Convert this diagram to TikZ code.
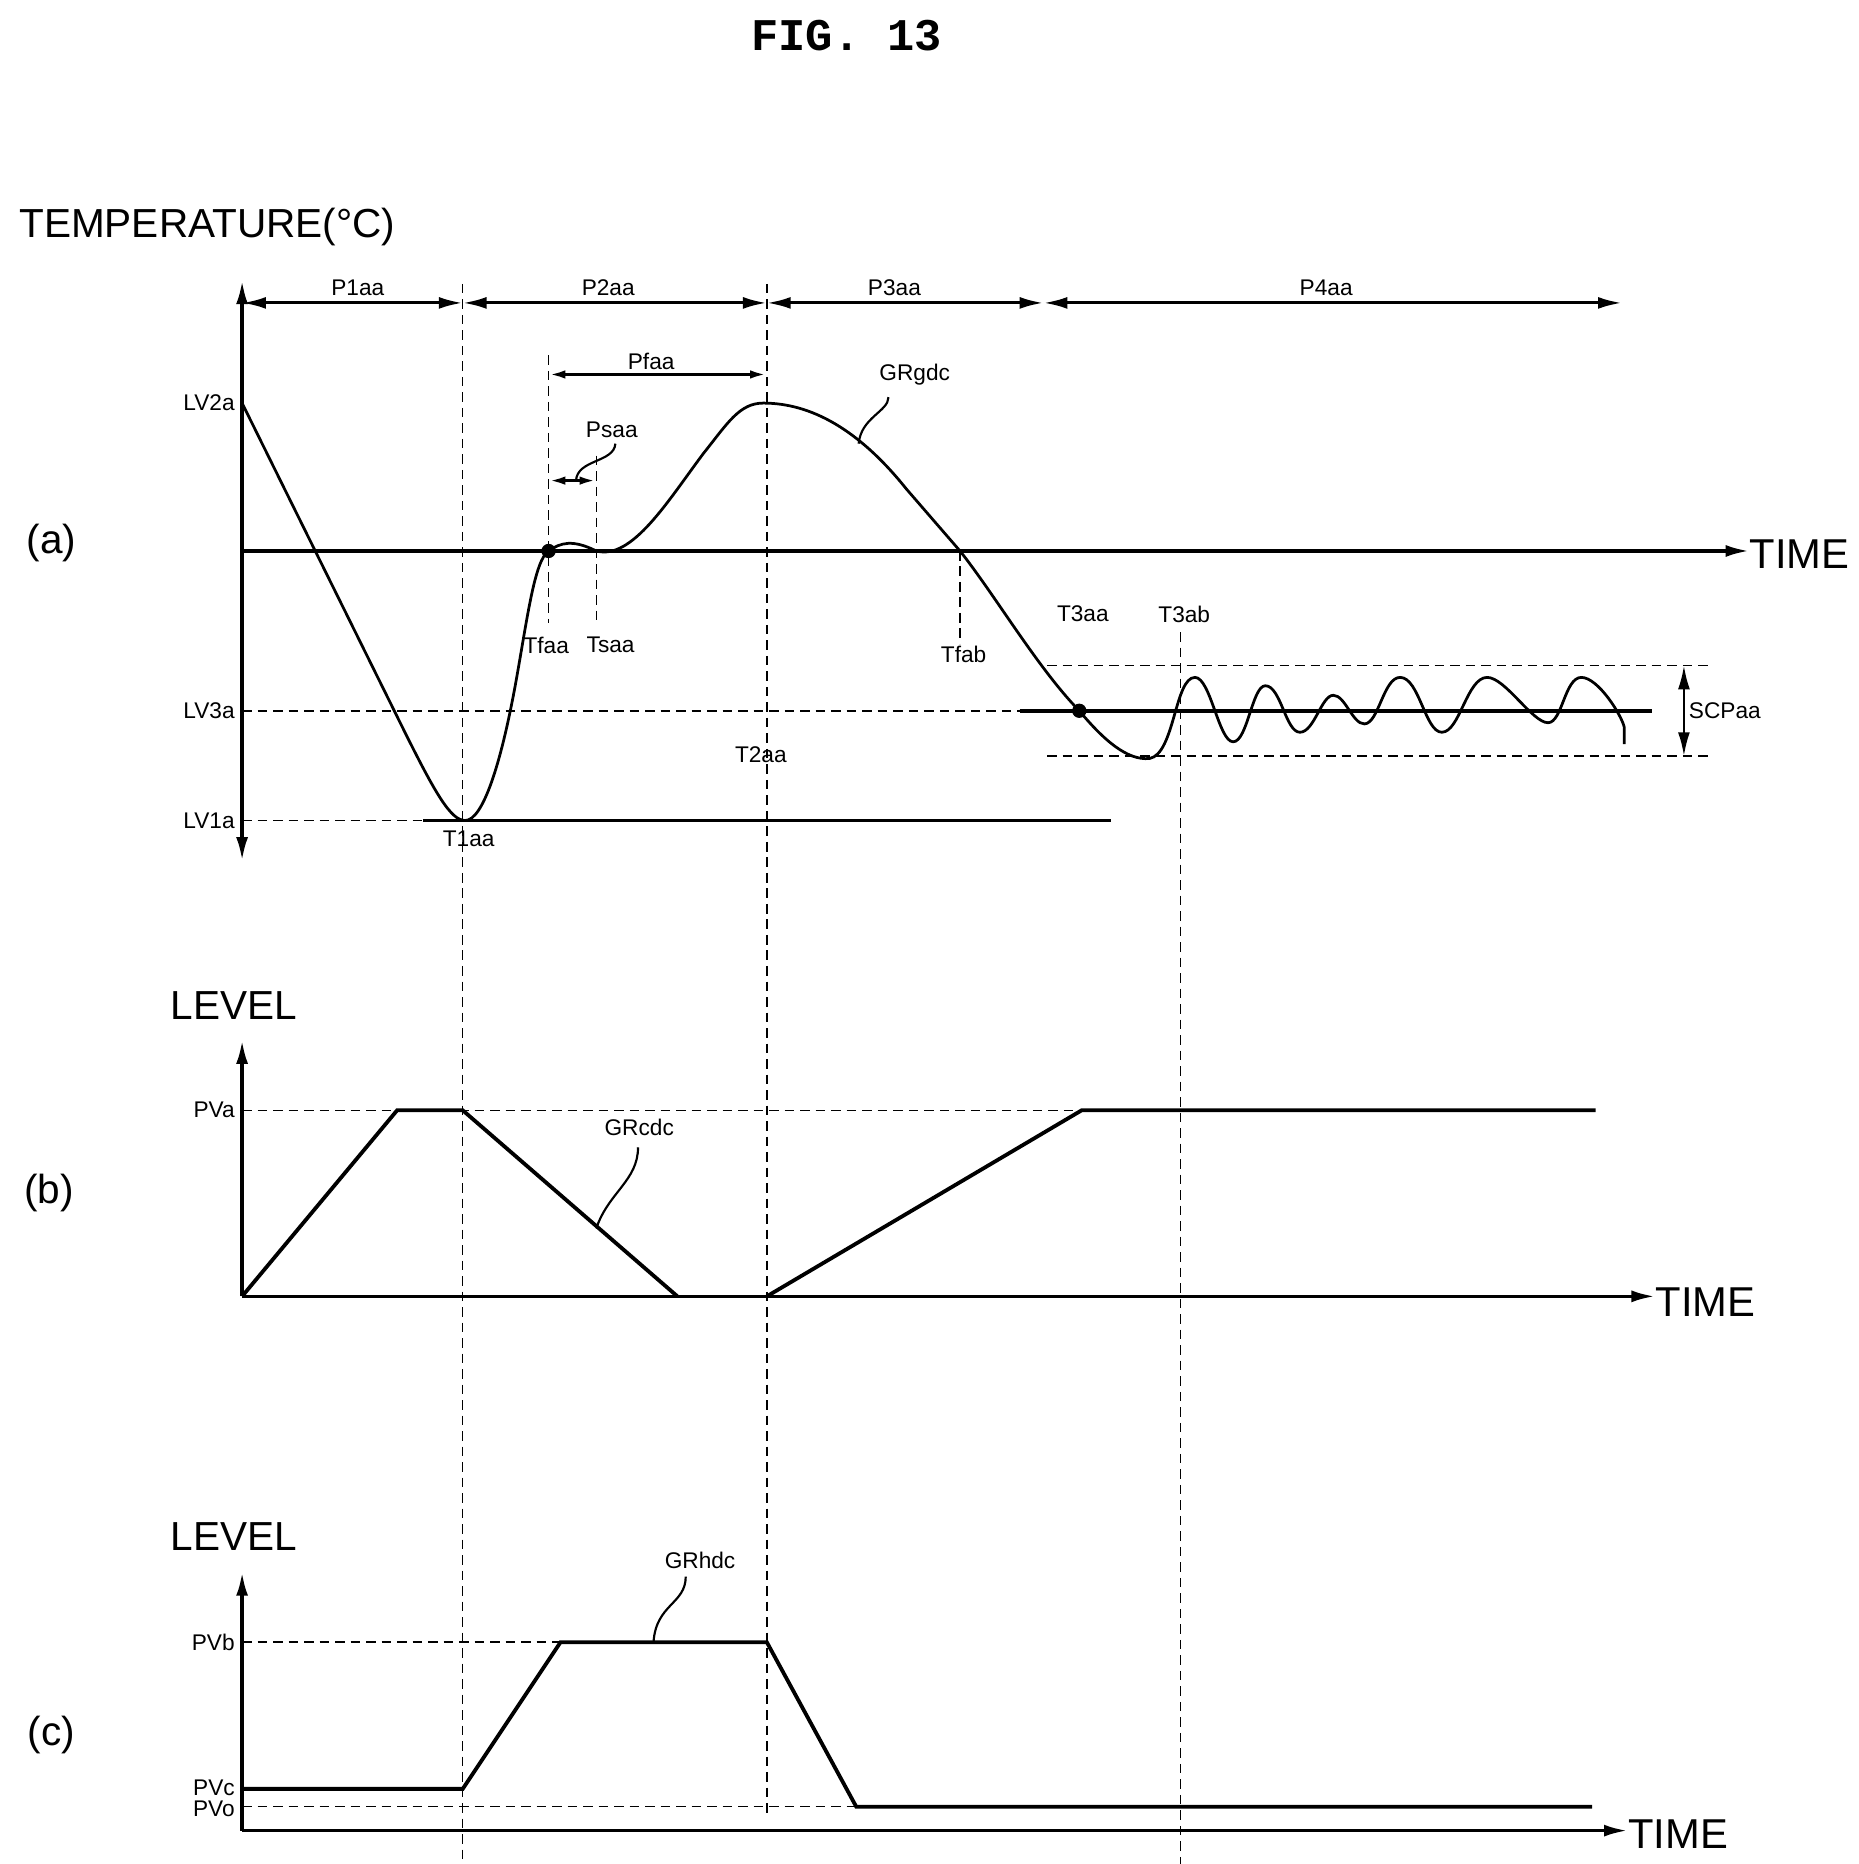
\documentclass[tikz,border=0pt]{standalone}
\usepackage{fontspec}
\setmainfont{Liberation Sans}
\newfontfamily\titlefont{Liberation Mono}
\usetikzlibrary{arrows.meta}
\begin{document}
\begin{tikzpicture}[x=1pt,y=-1pt,
  ax/.style={line width=3pt},
  thk/.style={line width=3.2pt},
  crv/.style={line width=2.3pt},
  dsh/.style={line width=1.2pt,dash pattern=on 8pt off 5pt},
  tip/.style={-{Latex[length=20pt,width=10pt]}},
  tips/.style={{Latex[length=20pt,width=10pt]}-{Latex[length=20pt,width=10pt]}},
  stips/.style={{Latex[length=14pt,width=7pt]}-{Latex[length=14pt,width=7pt]}},
  sm/.style={font=\fontsize{19}{19}\selectfont,inner sep=1pt},
  big/.style={font=\fontsize{34}{34}\selectfont,inner sep=0pt},
  tm/.style={font=\fontsize{35}{35}\selectfont,inner sep=0pt,anchor=west},
  lead/.style={line width=1.8pt}]
\useasboundingbox (0,0) rectangle (1558,1563);
\node[font=\titlefont\bfseries\fontsize{38}{38}\selectfont] (title) at (710,30) {FIG. 13};
% ---------- (a)
\node[big,anchor=west] (temp) at (16,190) {TEMPERATURE(°C)};
\node[big] (la) at (43,455) {(a)};
\coordinate (aT) at (203,235); \coordinate (aB) at (203,722);
\draw[ax,tips] (aB) -- (aT);
\coordinate (tA0) at (203,462); \coordinate (tA1) at (1467,462);
\draw[ax,tip] (tA0) -- (tA1);
\node[tm] (timea) at (1467,465) {TIME};
% dashed verticals
\draw[dsh] (388,238) -- (388,1565);
\draw[dsh] (643,238) -- (643,1520);
\draw[dsh] (990,530) -- (990,1565);
\draw[dsh] (460,298) -- (460,522);
\draw[dsh] (500,382) -- (500,522);
\draw[dsh] (805,462) -- (805,540);
% period arrows
\foreach \a/\b in {203/388,388/643,643/875,875/1360}{\draw[line width=2.6pt,tips] (\a,254) -- (\b,254);}
\node[sm] (p1) at (300,241) {P1aa};
\node[sm] (p2) at (510,241) {P2aa};
\node[sm] (p3) at (750,241) {P3aa};
\node[sm] (p4) at (1112,241) {P4aa};
\draw[line width=2.6pt,stips] (460,314) -- (643,314);
\node[sm] (pf) at (546,303) {Pfaa};
\draw[line width=2.6pt,stips] (460,403) -- (500,403);
\node[sm] (ps) at (513,360) {Psaa};
\draw[lead] (483,403) .. controls (484,385) and (515,388) .. (516,372);
% levels
\node[sm,anchor=east] (lv2) at (198,338) {LV2a};
\node[sm,anchor=east] (lv3) at (198,596) {LV3a};
\node[sm,anchor=east] (lv1) at (198,688) {LV1a};
\draw[dsh] (203,596) -- (855,596);
\draw[thk] (855,596) -- (1385,596);
\draw[dsh] (203,688) -- (355,688);
\draw[thk] (355,688) -- (932,688);
\draw[dsh] (878,558) -- (1432,558);
\draw[dsh] (878,634) -- (1432,634);
\draw[line width=2pt,tips] (1412,558) -- (1412,634);
\node[sm,anchor=west] (scp) at (1415,596) {SCPaa};
% curve
\draw[crv] (203,338) -- (340,615) .. controls (365,665) and (378,688) .. (390,688)
  .. controls (405,688) and (420,640) .. (432,575) .. controls (442,520) and (448,470) .. (460,462)
  .. controls (470,455) and (480,452) .. (500,462)
  .. controls (530,470) and (560,420) .. (590,380) .. controls (610,355) and (620,338) .. (640,338)
  .. controls (680,338) and (720,360) .. (760,410) -- (805,462)
  .. controls (835,500) and (870,560) .. (905,596)
  .. controls (925,620) and (945,638) .. (964,636)
  .. controls (985,632) and (985,568) .. (1002,568)
  .. controls (1015,568) and (1022,622) .. (1034,622)
  .. controls (1046,622) and (1050,575) .. (1061,575)
  .. controls (1074,575) and (1078,614) .. (1090,614)
  .. controls (1102,614) and (1108,583) .. (1118,583)
  .. controls (1128,583) and (1134,607) .. (1144,607)
  .. controls (1156,607) and (1160,568) .. (1174,568)
  .. controls (1190,568) and (1195,614) .. (1209,614)
  .. controls (1224,614) and (1230,568) .. (1247,568)
  .. controls (1262,568) and (1285,606) .. (1298,606)
  .. controls (1310,606) and (1312,568) .. (1326,568)
  .. controls (1340,568) and (1360,600) .. (1362,610) -- (1362,624);
\fill (460,462) circle (6pt);
\fill (905,596) circle (6pt);
\draw[lead] (720,372) .. controls (722,350) and (745,345) .. (745,333);
\node[sm] (gr) at (767,314) {GRgdc};
\node[sm] (tfaa) at (458,541) {Tfaa};
\node[sm] (tsaa) at (512,541) {Tsaa};
\node[sm] (tfab) at (808,549) {Tfab};
\node[sm] (t3aa) at (908,515) {T3aa};
\node[sm] (t3ab) at (993,515) {T3ab};
\node[sm] (t2aa) at (638,633) {T2aa};
\node[sm] (t1aa) at (393,703) {T1aa};
% ---------- (b)
\node[big,anchor=west] (levb) at (143,843) {LEVEL};
\node[big] (lb) at (41,1000) {(b)};
\draw[ax,tip] (203,1087) -- (203,872);
\draw[ax,tip] (203,1087) -- (1388,1087);
\node[tm] (timeb) at (1388,1092) {TIME};
\node[sm,anchor=east] (pva) at (198,931) {PVa};
\draw[dsh] (203,931) -- (907,931);
\draw[thk] (203,1087) -- (333,931) -- (388,931) -- (568,1087);
\draw[thk] (643,1087) -- (907,931) -- (1338,931);
\draw[lead] (500,1030) .. controls (510,1000) and (535,990) .. (535,962);
\node[sm] (grc) at (536,945) {GRcdc};
% ---------- (c)
\node[big,anchor=west] (levc) at (143,1288) {LEVEL};
\node[big] (lc) at (43,1455) {(c)};
\draw[ax,tip] (203,1535) -- (203,1318);
\draw[ax,tip] (203,1535) -- (1365,1535);
\node[tm] (timec) at (1365,1538) {TIME};
\node[sm,anchor=east] (pvb) at (198,1377) {PVb};
\node[sm,anchor=east] (pvc) at (198,1499) {PVc};
\node[sm,anchor=east] (pvo) at (198,1517) {PVo};
\draw[dsh] (203,1377) -- (470,1377);
\draw[dsh] (203,1515) -- (718,1515);
\draw[thk] (203,1500) -- (388,1500) -- (470,1377) -- (643,1377) -- (718,1515) -- (1335,1515);
\draw[lead] (548,1377) .. controls (550,1345) and (575,1345) .. (575,1322);
\node[sm] (grh) at (587,1308) {GRhdc};
\end{tikzpicture}
\end{document}
